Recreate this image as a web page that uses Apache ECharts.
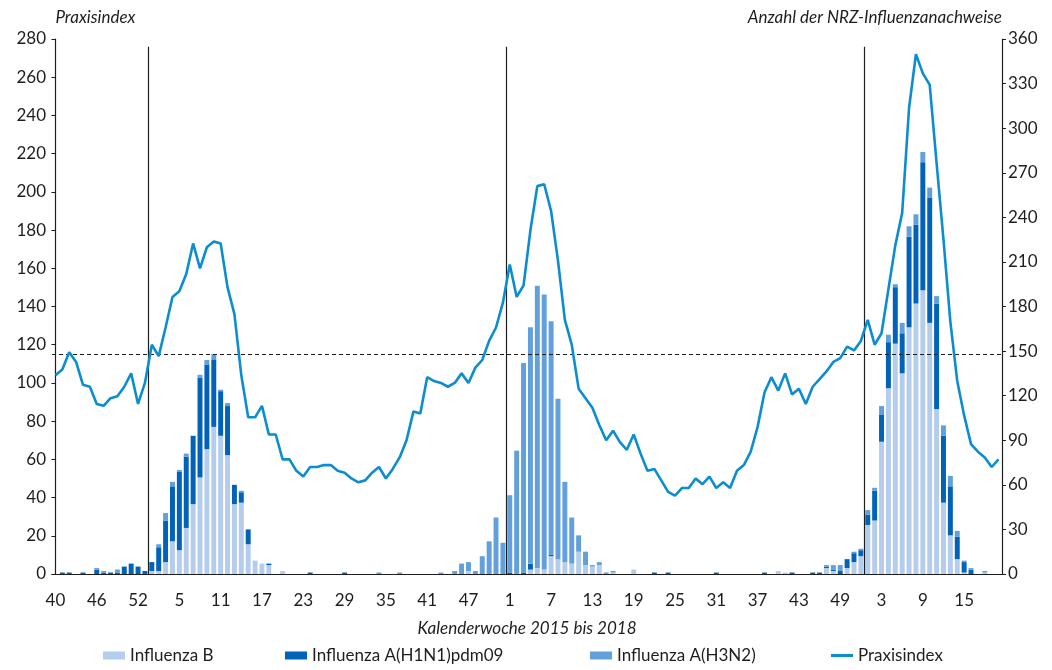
<!DOCTYPE html>
<html lang="de">
<head>
<meta charset="utf-8">
<title>Praxisindex und NRZ-Influenzanachweise 2015–2018</title>
<script src="https://cdn.jsdelivr.net/npm/echarts@6/dist/echarts.min.js"></script>
<style>
  html, body { margin: 0; padding: 0; background: #fff; }
  #chart { width: 1052px; height: 670px; }
</style>
</head>
<body>
<div id="chart"></div>
<script>
// Kalenderwochen je Jahr: [Jahr, erste Woche, letzte Woche]
const seasonWeeks = [[2015, 40, 53], [2016, 1, 52], [2017, 1, 52], [2018, 1, 20]];

// Anzahl der NRZ-Nachweise je Kalenderwoche (gestapelt)
const influenzaB = [
  // 2015 KW 40–53
  0,0,0,0,0,0,0,0,0,0,0,0,0,0,
  // 2016 KW 1–52
  2,2,8,22,16,31,47,65,84,99,93,80,47,48,20,9,7,6,0,2,
  0,0,0,0,0,0,0,0,0,0,0,0,0,0,0,0,0,0,0,0,0,0,0,0,0,0,
  2,0,0,0,0,0,
  // 2017 KW 1–52
  0,0,0,3,4,3,12,10,8,7,15,6,5,6,0,1,0,0,3,
  0,0,0,0,0,0,0,0,0,0,0,0,0,0,0,0,0,0,0,0,
  2,1,0,0,0,0,0,4,2,0,4,8,12,
  // 2018 KW 1–20
  33,36,89,125,155,135,166,182,191,169,111,48,26,10,1,0,0,1,0,0
];
const influenzaH1N1 = [
  // 2015
  0,1,1,0,1,0,3,1,1,1,5,7,5,2,
  // 2016
  6,16,28,37,53,48,46,67,57,45,30,33,13,7,10,0,0,1,0,0,
  0,0,0,1,0,0,0,0,1,0,0,0,0,0,0,0,0,0,0,0,0,0,0,0,0,0,
  0,0,0,0,0,0,
  // 2017
  1,0,1,4,0,0,1,0,0,0,0,0,0,0,0,0,0,0,0,0,
  0,1,0,1,0,0,0,0,0,0,1,0,0,0,0,0,0,1,0,0,
  0,1,0,0,1,1,1,1,2,6,6,4,
  // 2018
  7,20,18,31,38,27,61,53,86,84,71,45,33,15,7,3,0,0,0,0
];
const influenzaH3N2 = [
  // 2015
  0,0,0,0,0,0,1,1,0,2,0,0,0,0,
  // 2016
  0,2,5,3,1,2,0,2,3,4,1,2,0,1,0,0,0,0,0,0,
  0,0,0,0,0,0,0,0,0,0,0,0,0,1,0,0,1,0,0,0,0,0,1,0,2,7,
  6,2,12,22,38,21,
  // 2017
  52,83,141,159,190,185,157,108,54,31,11,9,1,2,1,1,0,0,0,0,
  0,0,0,0,0,0,0,0,0,0,0,0,0,0,0,0,0,0,0,0,
  0,0,0,0,0,0,1,3,4,0,1,1,
  // 2018
  3,2,6,5,2,7,7,7,7,7,5,7,7,4,1,1,0,1,0,0
];

// Praxisindex je Kalenderwoche
const praxisindex = [
  // 2015
  104,107,116,111,99,98,89,88,92,93,98,105,89,100,
  // 2016
  120,114,129,145,148,157,173,160,171,174,173,150,136,104,82,82,88,73,73,60,
  60,54,51,56,56,57,57,54,53,50,48,49,53,56,50,55,61,70,85,84,
  103,101,100,98,100,105,100,108,112,122,129,142,
  // 2017
  162,145,151,180,203,204,190,164,133,120,97,92,87,78,70,75,69,65,73,63,
  54,55,49,43,41,45,45,50,47,51,45,48,45,54,57,64,77,95,103,96,
  105,94,97,89,98,102,106,111,113,119,117,122,
  // 2018
  133,120,126,149,172,189,244,272,262,256,215,175,132,101,83,68,64,61,56,60
];

// Schwellenwert des Praxisindex (gestrichelte Linie)
const praxisThreshold = 115;

const seriesNames = ['Influenza B', 'Influenza A(H1N1)pdm09', 'Influenza A(H3N2)', 'Praxisindex'];
const colors = {
  b: '#b5cdec',
  h1: '#0062b8',
  h3: '#62a0db',
  line: '#0b8dd0',
  ink: '#1e1e1e'
};

// Kategorien "Jahr-KW"
const categories = [];
seasonWeeks.forEach(([year, from, to]) => {
  for (let w = from; w <= to; w++) categories.push(year + '-' + w);
});
// Jahreswechsel: Grenze vor jeder KW 1
const yearBreaks = [];
categories.forEach((c, i) => { if (c.split('-')[1] === '1') yearBreaks.push(i - 0.5); });

const font = 'Lato, "Open Sans", "DejaVu Sans", sans-serif';
const txt = { fontFamily: font, fontSize: 17, color: colors.ink };

const chart = echarts.init(document.getElementById('chart'), null, { renderer: 'canvas' });

const legendAt = (name, left, iconHeight) => ({
  data: [{ name, icon: 'rect' }],
  left, top: 647, padding: 0,
  itemWidth: 22, itemHeight: iconHeight,
  textStyle: txt,
  selectedMode: false
});

chart.setOption({
  animation: false,
  textStyle: { fontFamily: font },
  grid: { left: 52, right: 50, top: 39, bottom: 96 },
  legend: [
    legendAt(seriesNames[0], 103, 8),
    legendAt(seriesNames[1], 285, 8),
    legendAt(seriesNames[2], 590, 8),
    legendAt(seriesNames[3], 831, 3)
  ],
  xAxis: [
    {
      type: 'category',
      data: categories,
      boundaryGap: true,
      name: 'Kalenderwoche 2015 bis 2018',
      nameLocation: 'middle',
      nameGap: 46,
      nameTextStyle: Object.assign({}, txt, { fontStyle: 'italic' }),
      axisLine: { lineStyle: { color: colors.ink, width: 1.2 } },
      axisTick: { interval: 0, length: 5, lineStyle: { color: colors.ink, width: 1 } },
      axisLabel: Object.assign({}, txt, {
        interval: 5,
        margin: 18,
        formatter: v => v.split('-')[1]
      }),
      splitLine: { show: false }
    },
    {
      type: 'value',
      min: -0.5,
      max: categories.length - 0.5,
      show: false
    }
  ],
  yAxis: [
    {
      type: 'value',
      min: 0, max: 280, interval: 20,
      name: 'Praxisindex',
      nameLocation: 'end',
      nameGap: 21,
      nameTextStyle: Object.assign({}, txt, { fontStyle: 'italic', align: 'left', verticalAlign: 'middle' }),
      axisLine: { show: true, lineStyle: { color: colors.ink, width: 1.2 } },
      axisTick: { show: true, length: 4, lineStyle: { color: colors.ink } },
      axisLabel: Object.assign({}, txt, { margin: 6 }),
      splitLine: { show: false }
    },
    {
      type: 'value',
      position: 'right',
      min: 0, max: 360, interval: 30,
      name: 'Anzahl der NRZ-Influenzanachweise',
      nameLocation: 'end',
      nameGap: 21,
      nameTextStyle: Object.assign({}, txt, { fontStyle: 'italic', align: 'right', verticalAlign: 'middle' }),
      axisLine: { show: true, lineStyle: { color: colors.ink, width: 1.2 } },
      axisTick: { show: true, length: 4, lineStyle: { color: colors.ink } },
      axisLabel: Object.assign({}, txt, { margin: 6 }),
      splitLine: { show: false }
    }
  ],
  series: [
    {
      name: seriesNames[0], type: 'bar', stack: 'nrz', yAxisIndex: 1,
      barWidth: '72%', data: influenzaB,
      itemStyle: { color: colors.b }
    },
    {
      name: seriesNames[1], type: 'bar', stack: 'nrz', yAxisIndex: 1,
      barWidth: '72%', data: influenzaH1N1,
      itemStyle: { color: colors.h1 }
    },
    {
      name: seriesNames[2], type: 'bar', stack: 'nrz', yAxisIndex: 1,
      barWidth: '72%', data: influenzaH3N2,
      itemStyle: { color: colors.h3 }
    },
    {
      name: seriesNames[3], type: 'line', yAxisIndex: 0,
      data: praxisindex,
      symbol: 'none',
      z: 5,
      lineStyle: { color: colors.line, width: 2.6 },
      itemStyle: { color: colors.line },
      markLine: {
        silent: true,
        symbol: 'none',
        label: { show: false },
        lineStyle: { color: colors.ink, type: [4, 3], width: 1.2 },
        data: [{ yAxis: praxisThreshold }]
      }
    },
    {
      name: 'Jahreswechsel', type: 'lines', coordinateSystem: 'cartesian2d',
      xAxisIndex: 1, yAxisIndex: 0,
      silent: true, z: 4,
      lineStyle: { color: colors.ink, width: 1.2, opacity: 1 },
      data: yearBreaks.map(b => ({ coords: [[b, 0], [b, 276]] }))
    }
  ]
});
</script>
</body>
</html>
